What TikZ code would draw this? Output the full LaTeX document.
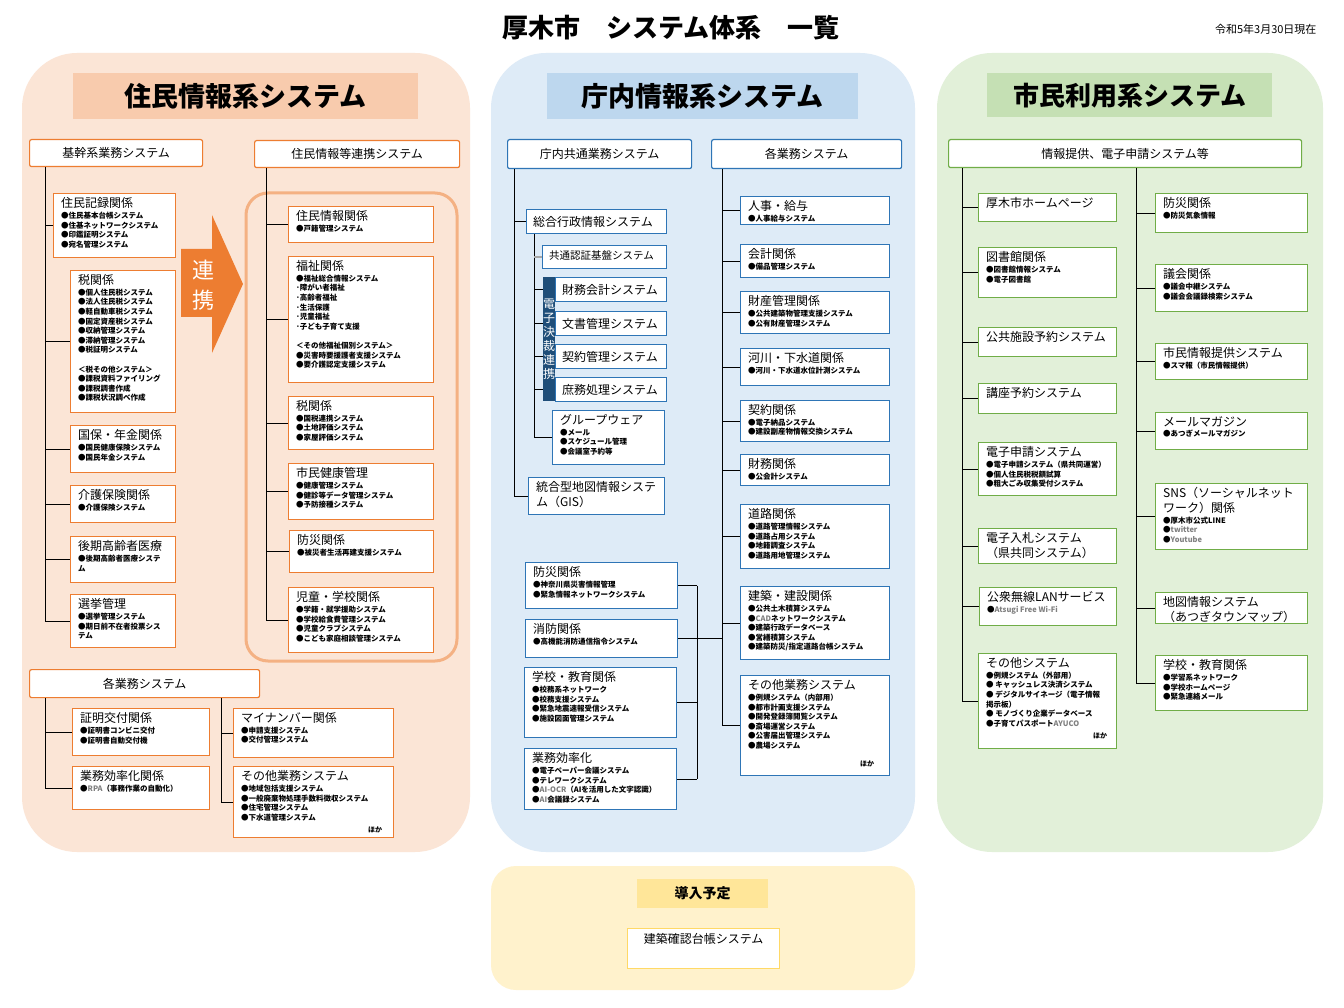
\documentclass[tikz,border=0pt]{standalone}
\usepackage{fontspec}
\setmainfont{Noto Sans CJK JP}
\usetikzlibrary{calc}
\definecolor{pOr}{HTML}{FBE5D6}
\definecolor{pBl}{HTML}{DEEBF7}
\definecolor{pGr}{HTML}{E2F0D9}
\definecolor{pYe}{HTML}{FFF2CC}
\definecolor{hOr}{HTML}{F8CBAD}
\definecolor{hBl}{HTML}{BDD7EE}
\definecolor{hGr}{HTML}{C5E0B4}
\definecolor{hYe}{HTML}{FFE699}
\definecolor{bOr}{HTML}{ED7D31}
\definecolor{bBl}{HTML}{2E75B6}
\definecolor{bGr}{HTML}{70AD47}
\definecolor{bYe}{HTML}{FFD966}
\definecolor{lOr}{HTML}{F4B183}
\definecolor{dBl}{HTML}{1F4E79}
\tikzset{
  ob/.style={draw=bOr, fill=white, line width=1.2pt, inner sep=0pt, anchor=north west},
  bb/.style={draw=bBl, fill=white, line width=1.2pt, inner sep=0pt, anchor=north west},
  gb/.style={draw=bGr, fill=white, line width=1.2pt, inner sep=0pt, anchor=north west},
  ttl/.style={anchor=north west, inner sep=0pt, align=left, font=\fontsize{12}{14.5}\selectfont},
  itm/.style={anchor=north west, inner sep=0pt, align=left, font=\fontsize{7.5}{9.6}\selectfont\bfseries},
  cn/.style={draw=black, line width=0.9pt},
  hd/.style={fill=white, line width=1.2pt, rounded corners=2pt, inner sep=0pt, anchor=north west, font=\fontsize{12}{14}\selectfont},
  ph/.style={inner sep=0pt, anchor=north west, font=\fontsize{27}{30}\selectfont\bfseries},
  hoka/.style={anchor=south east, inner sep=0pt, font=\fontsize{7}{8}\selectfont\bfseries},
}
\newcommand\bx[8]{%
  \node[#2, minimum width=#5pt, minimum height=#6pt] (#1) at (#3,#4) {};
  \node[ttl] (#1t) at ([xshift=8pt,yshift=-4.5pt]#1.north west) {#7};
  \node[itm] (#1i) at ([yshift=-2.8pt]#1t.south west) {#8};
}
\newcommand\sbx[7]{%
  \node[#2, minimum width=#5pt, minimum height=#6pt] (#1) at (#3,#4) {};
  \node[ttl, anchor=west] (#1t) at ([xshift=7pt]#1.west) {#7};
}
\begin{document}
\begin{tikzpicture}[x=1pt,y=-1pt]
\useasboundingbox (0,0) rectangle (1344,1008);
\fill[white] (0,0) rectangle (1344,1008);
% title
\node[font=\fontsize{26}{30}\selectfont\bfseries] (title) at (671,28) {厚木市　システム体系　一覧};
\node[anchor=east, font=\fontsize{11}{13}\selectfont] (date) at (1320,29) {令和5年3月30日現在};
% panels
\fill[pOr, rounded corners=55pt] (22,53) rectangle (470,852);
\fill[pBl, rounded corners=55pt] (491,53) rectangle (915,852);
\fill[pGr, rounded corners=55pt] (937,53) rectangle (1323,852);
\fill[pYe, rounded corners=25pt] (491,866) rectangle (915,990);
% panel headers
\node[ph, fill=hOr, minimum width=345pt, minimum height=46pt] (hL) at (73,73) {住民情報系システム};
\node[ph, fill=hBl, minimum width=311pt, minimum height=46pt] (hM) at (547,73) {庁内情報系システム};
\node[ph, fill=hGr, minimum width=285pt, minimum height=44pt, font=\fontsize{26}{30}\selectfont\bfseries] (hR) at (987,73) {市民利用系システム};
% section headers
\node[hd, draw=bOr, minimum width=173pt, minimum height=27pt] (kikan) at (29,139) {基幹系業務システム};
\node[hd, draw=bOr, minimum width=205pt, minimum height=27pt] (renkei) at (254,140) {住民情報等連携システム};
\node[hd, draw=bOr, minimum width=230pt, minimum height=28pt] (kakuL) at (29,669) {各業務システム};
\node[hd, draw=bBl, minimum width=184pt, minimum height=29pt] (chonai) at (507,139) {庁内共通業務システム};
\node[hd, draw=bBl, minimum width=190pt, minimum height=29pt] (kakuM) at (711,139) {各業務システム};
\node[hd, draw=bGr, minimum width=353pt, minimum height=28pt] (info) at (948,139) {情報提供、電子申請システム等};

% ---- left panel, column 1
\bx{L1}{ob}{53}{193}{122}{64}{住民記録関係}{●住民基本台帳システム\\●住基ネットワークシステム\\●印鑑証明システム\\●宛名管理システム}
\bx{L2}{ob}{70}{270}{105}{142}{税関係}{●個人住民税システム\\●法人住民税システム\\●軽自動車税システム\\●固定資産税システム\\●収納管理システム\\●滞納管理システム\\●税証明システム\\[9.6pt]＜税その他システム＞\\●課税資料ファイリング\\●課税調書作成\\●課税状況調べ作成}
\bx{L3}{ob}{70}{425}{105}{47}{国保・年金関係}{●国民健康保険システム\\●国民年金システム}
\bx{L4}{ob}{70}{485}{105}{37}{介護保険関係}{●介護保険システム}
\bx{L5}{ob}{70}{536}{105}{46}{後期高齢者医療}{●後期高齢者医療システ\\ム}
\bx{L6}{ob}{70}{594}{105}{53}{選挙管理}{●選挙管理システム\\●期日前不在者投票シス\\テム}

% ---- left panel, column 2
\draw[lOr, line width=3pt, rounded corners=22pt] (246,193) rectangle (457,661);
\bx{M1}{ob}{288}{206}{145}{36}{住民情報関係}{●戸籍管理システム}
\bx{M2}{ob}{288}{256}{145}{126}{福祉関係}{●福祉総合情報システム\\･障がい者福祉\\･高齢者福祉\\･生活保護\\･児童福祉\\･子ども子育て支援\\[9.6pt]＜その他福祉個別システム＞\\●災害時要援護者支援システム\\●要介護認定支援システム}
\bx{M3}{ob}{288}{396}{145}{53}{税関係}{●国税連携システム\\●土地評価システム\\●家屋評価システム}
\bx{M4}{ob}{288}{463}{145}{56}{市民健康管理}{●健康管理システム\\●健診等データ管理システム\\●予防接種システム}
\bx{M5}{ob}{289}{530}{144}{42}{防災関係}{●被災者生活再建支援システム}
\bx{M6}{ob}{288}{587}{145}{65}{児童・学校関係}{●学籍・就学援助システム\\●学校給食費管理システム\\●児童クラブシステム\\●こども家庭相談管理システム}

% arrow
\fill[bOr] (181,249) -- (212,249) -- (212,215) -- (243,284) -- (212,353) -- (212,317) -- (181,317) -- cycle;
\node[text=white, font=\fontsize{22}{24}\selectfont] (ren) at (203,270) {連};
\node[text=white, font=\fontsize{22}{24}\selectfont] (kei) at (203,300) {携};

% ---- left panel, bottom
\bx{B1}{ob}{72}{708}{137}{47}{証明交付関係}{●証明書コンビニ交付\\●証明書自動交付機}
\bx{B2}{ob}{72}{766}{137}{43}{業務効率化関係}{●\textcolor{gray}{RPA}（事務作業の自動化）}
\bx{B3}{ob}{233}{708}{160}{49}{マイナンバー関係}{●申請支援システム\\●交付管理システム}
\bx{B4}{ob}{233}{766}{160}{71}{その他業務システム}{●地域包括支援システム\\●一般廃棄物処理手数料徴収システム\\●住宅管理システム\\●下水道管理システム}
\node[hoka] (B4h) at ([xshift=-12pt,yshift=5pt]B4.south east) {ほか};

% ---- middle panel
\sbx{C1}{bb}{526}{209}{140}{24}{総合行政情報システム}
\node[bb, minimum width=124pt, minimum height=23pt] (C2) at (542,245) {};
\node[ttl, anchor=west, font=\fontsize{10.5}{12}\selectfont] (C2t) at ([xshift=7pt,yshift=1.5pt]C2.west) {共通認証基盤システム};
\sbx{C3}{bb}{555}{277}{111}{24}{財務会計システム}
\sbx{C4}{bb}{555}{311}{111}{24}{文書管理システム}
\sbx{C5}{bb}{555}{344}{111}{24}{契約管理システム}
\sbx{C6}{bb}{555}{377}{111}{24}{庶務処理システム}
\node[fill=dBl, minimum width=12pt, minimum height=124pt, inner sep=0pt, anchor=north west] (band) at (543,277) {};
\node[text=white, align=center, inner sep=0pt, font=\fontsize{12}{14}\selectfont] (bandt) at (band.center) {電\\子\\決\\裁\\連\\携};
\bx{C7}{bb}{552}{410}{112}{54}{グループウェア}{●メール\\●スケジュール管理\\●会議室予約等}
\bx{C8}{bb}{528}{477}{136}{37}{統合型地図情報システ\\ム（GIS）}{}

\bx{D1}{bb}{525}{562}{152}{46}{防災関係}{●神奈川県災害情報管理\\●緊急情報ネットワークシステム}
\bx{D2}{bb}{525}{619}{152}{38}{消防関係}{●高機能消防通信指令システム}
\bx{D3}{bb}{524}{667}{152}{70}{学校・教育関係}{●校務系ネットワーク\\●校務支援システム\\●緊急地震速報受信システム\\●施設図面管理システム}
\bx{D4}{bb}{524}{748}{152}{61}{業務効率化}{●電子ペーパー会議システム\\●テレワークシステム\\●\textcolor{gray}{AI-OCR}（AIを活用した文字認識）\\●\textcolor{gray}{AI}会議録システム}

\bx{E1}{bb}{740}{196}{149}{28}{人事・給与}{●人事給与システム}
\bx{E2}{bb}{740}{244}{149}{33}{会計関係}{●備品管理システム}
\bx{E3}{bb}{740}{291}{149}{42}{財産管理関係}{●公共建築物管理支援システム\\●公有財産管理システム}
\bx{E4}{bb}{740}{348}{149}{37}{河川・下水道関係}{●河川・下水道水位計測システム}
\bx{E5}{bb}{740}{400}{149}{41}{契約関係}{●電子納品システム\\●建設副産物情報交換システム}
\bx{E6}{bb}{740}{454}{149}{31}{財務関係}{●公会計システム}
\bx{E7}{bb}{740}{504}{149}{64}{道路関係}{●道路管理情報システム\\●道路占用システム\\●地籍調査システム\\●道路用地管理システム}
\bx{E8}{bb}{740}{586}{149}{73}{建築・建設関係}{●公共土木積算システム\\●\textcolor{gray}{CAD}ネットワークシステム\\●建築行政データベース\\●営繕積算システム\\●建築防災/指定道路台帳システム}
\bx{E9}{bb}{740}{675}{149}{100}{その他業務システム}{●例規システム（内部用）\\●都市計画支援システム\\●開発登録簿閲覧システム\\●斎場運営システム\\●公害届出管理システム\\●農場システム}
\node[hoka] (E9h) at ([xshift=-16pt,yshift=9pt]E9.south east) {ほか};

% ---- bottom panel
\node[inner sep=0pt, anchor=north west, fill=hYe, minimum width=131pt, minimum height=29pt, font=\fontsize{14}{16}\selectfont\bfseries] (dny) at (637,879) {導入予定};
\node[draw=bYe, fill=white, line width=1.2pt, minimum width=152pt, minimum height=40pt, inner sep=0pt, anchor=north west] (kc) at (627,928) {};
\node[ttl, anchor=north] (kct) at ([yshift=-5pt]kc.north) {建築確認台帳システム};

% ---- right panel
\bx{R1}{gb}{978}{193}{138}{28}{厚木市ホームページ}{}
\bx{R2}{gb}{978}{247}{138}{50}{図書館関係}{●図書館情報システム\\●電子図書館}
\bx{R3}{gb}{978}{327}{138}{29}{公共施設予約システム}{}
\bx{R4}{gb}{978}{383}{138}{30}{講座予約システム}{}
\bx{R5}{gb}{978}{442}{138}{53}{電子申請システム}{●電子申請システム（県共同運営）\\●個人住民税税額試算\\●粗大ごみ収集受付システム}
\bx{R6}{gb}{978}{528}{138}{35}{電子入札システム\\（県共同システム）}{}
\bx{R7}{gb}{979}{587}{137}{38}{公衆無線LANサービス}{●\textcolor{gray}{Atsugi Free Wi-Fi}}
\bx{R8}{gb}{978}{653}{138}{95}{その他システム}{●例規システム（外部用）\\● キャッシュレス決済システム\\● デジタルサイネージ（電子情報\\掲示板）\\● モノづくり企業データベース\\●子育てパスポート\textcolor{gray}{AYUCO}}
\node[hoka] (R8h) at ([xshift=-10pt,yshift=10pt]R8.south east) {ほか};

\bx{S1}{gb}{1155}{193}{152}{39}{防災関係}{●防災気象情報}
\bx{S2}{gb}{1155}{264}{152}{47}{議会関係}{●議会中継システム\\●議会会議録検索システム}
\bx{S3}{gb}{1155}{343}{152}{36}{市民情報提供システム}{●スマ報（市民情報提供）}
\bx{S4}{gb}{1155}{412}{152}{37}{メールマガジン}{●あつぎメールマガジン}
\bx{S5}{gb}{1155}{483}{152}{66}{SNS（ソーシャルネット\\ワーク）関係}{●厚木市公式LINE\\●\textcolor{gray}{twitter}\\●\textcolor{gray}{Youtube}}
\bx{S6}{gb}{1155}{592}{152}{31}{地図情報システム\\（あつぎタウンマップ）}{}
\bx{S7}{gb}{1155}{655}{152}{55}{学校・教育関係}{●学習系ネットワーク\\●学校ホームページ\\●緊急連絡メール}

% ---- connectors
\coordinate (tA) at (45,0);
\coordinate (tB) at (266,0);
\coordinate (tC) at (45,0);
\coordinate (tD) at (221,0);
\coordinate (tE) at (514,0);
\coordinate (tF) at (534,0);
\coordinate (tG) at (697,0);
\coordinate (tH) at (722,0);
\coordinate (tI) at (962,0);
\coordinate (tJ) at (1136,0);

\draw[cn] (kikan.south -| tA) -- (L6.west -| tA);
\foreach \n in {L1,L2,L3,L4,L5,L6} \draw[cn] (\n.west -| tA) -- (\n.west);
\draw[cn] (renkei.south -| tB) -- (M6.west -| tB);
\foreach \n in {M1,M2,M3,M4,M5,M6} \draw[cn] (\n.west -| tB) -- (\n.west);
\draw[cn] (kakuL.south -| tC) -- (B2.west -| tC);
\foreach \n in {B1,B2} \draw[cn] (\n.west -| tC) -- (\n.west);
\draw[cn] (kakuL.south -| tD) -- (B4.west -| tD);
\foreach \n in {B3,B4} \draw[cn] (\n.west -| tD) -- (\n.west);

\draw[cn] (chonai.south -| tE) -- (C8.west -| tE);
\foreach \n in {C1,C8} \draw[cn] (\n.west -| tE) -- (\n.west);
\draw[cn] (C1.south -| tF) -- (C7.west -| tF);
\draw[gray!70, line width=1.6pt] (C2.west -| tF) -- (C2.west);
\foreach \n in {C3,C4,C5,C6} \draw[cn] (\n.west -| tF) -- (\n.west -| band.west);
\draw[cn] (C7.west -| tF) -- (C7.west);

\draw[cn] (kakuM.south -| tH) -- (E9.west -| tH);
\foreach \n in {E1,E2,E3,E4,E5,E6,E7,E8,E9} \draw[cn] (\n.west -| tH) -- (\n.west);
\draw[cn] (D1.east -| tG) -- (D4.east -| tG);
\foreach \n in {D1,D3,D4} \draw[cn] (\n.east) -- (\n.east -| tG);
\draw[cn] (D2.east) -- (D2.east -| tH);

\draw[cn] (info.south -| tI) -- (R8.west -| tI);
\foreach \n in {R1,R2,R3,R4,R5,R6,R7,R8} \draw[cn] (\n.west -| tI) -- (\n.west);
\draw[cn] (info.south -| tJ) -- (S7.west -| tJ);
\foreach \n in {S1,S2,S3,S4,S5,S6,S7} \draw[cn] (\n.west -| tJ) -- (\n.west);
\end{tikzpicture}
\end{document}
